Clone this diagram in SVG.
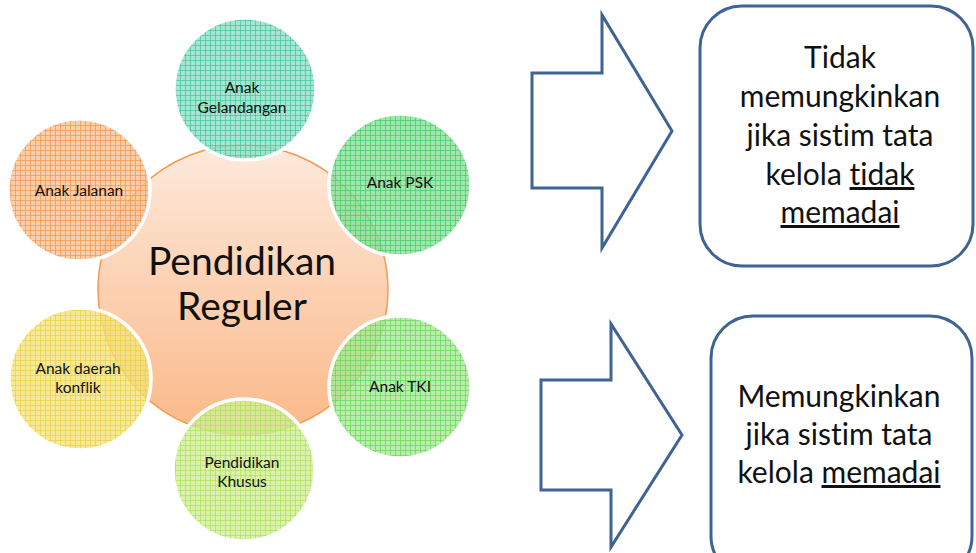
<svg xmlns="http://www.w3.org/2000/svg" width="976" height="553" viewBox="0 0 976 553">
  <defs>
    <style>
      .lbl { font-family: Lato, "Liberation Sans", sans-serif; fill: #111; text-anchor: middle; font-variant-ligatures: none; }
      .small { font-size: 15.5px; }
      .hub { font-size: 39px; }
      .box { font-size: 30px; }
      .sat { stroke: #ffffff; stroke-width: 3.5; }
      .frame { fill: #ffffff; stroke: #3d6494; stroke-width: 3; }
      .arrow { fill: #ffffff; stroke: #3d6494; stroke-width: 3; stroke-linejoin: miter; }
    </style>
    <linearGradient id="hubFill" x1="0" y1="0" x2="0" y2="1">
      <stop offset="0" stop-color="#fde9dc"/>
      <stop offset="1" stop-color="#fbb988"/>
    </linearGradient>
    <pattern id="gTeal" width="5" height="5" patternUnits="userSpaceOnUse">
      <rect width="5" height="5" fill="#8fdfc6" fill-opacity="0.8"/>
      <path d="M0 0.5H5M0.5 0V5" stroke="#3fc79a" stroke-width="1" stroke-opacity="0.7"/>
    </pattern>
    <pattern id="gGreen" width="5" height="5" patternUnits="userSpaceOnUse">
      <rect width="5" height="5" fill="#88e09a" fill-opacity="0.8"/>
      <path d="M0 0.5H5M0.5 0V5" stroke="#45cc66" stroke-width="1" stroke-opacity="0.7"/>
    </pattern>
    <pattern id="gLime" width="5" height="5" patternUnits="userSpaceOnUse">
      <rect width="5" height="5" fill="#a8e896" fill-opacity="0.8"/>
      <path d="M0 0.5H5M0.5 0V5" stroke="#66d856" stroke-width="1" stroke-opacity="0.7"/>
    </pattern>
    <pattern id="gYellowGreen" width="5" height="5" patternUnits="userSpaceOnUse">
      <rect width="5" height="5" fill="#d2ef98" fill-opacity="0.8"/>
      <path d="M0 0.5H5M0.5 0V5" stroke="#ade05a" stroke-width="1" stroke-opacity="0.7"/>
    </pattern>
    <pattern id="gYellow" width="5" height="5" patternUnits="userSpaceOnUse">
      <rect width="5" height="5" fill="#f4e47e" fill-opacity="0.8"/>
      <path d="M0 0.5H5M0.5 0V5" stroke="#ebd044" stroke-width="1" stroke-opacity="0.7"/>
    </pattern>
    <pattern id="gOrange" width="5" height="5" patternUnits="userSpaceOnUse">
      <rect width="5" height="5" fill="#f8c296" fill-opacity="0.8"/>
      <path d="M0 0.5H5M0.5 0V5" stroke="#f4964c" stroke-width="1" stroke-opacity="0.7"/>
    </pattern>
  </defs>

  <!-- central hub -->
  <g id="hub">
    <circle cx="243" cy="290" r="145" fill="url(#hubFill)" stroke="#f39a4f" stroke-width="1.5"/>
  </g>

  <!-- satellite circles around the hub -->
  <g id="anak-gelandangan">
    <circle class="sat" cx="245" cy="89" r="71" fill="url(#gTeal)"/>
    <text class="lbl small" x="242" y="93">Anak</text>
    <text class="lbl small" x="242" y="113">Gelandangan</text>
  </g>
  <g id="anak-psk">
    <circle class="sat" cx="400" cy="185" r="71" fill="url(#gGreen)"/>
    <text class="lbl small" x="400" y="188">Anak PSK</text>
  </g>
  <g id="anak-tki">
    <circle class="sat" cx="400" cy="387" r="71" fill="url(#gLime)"/>
    <text class="lbl small" x="400" y="392">Anak TKI</text>
  </g>
  <g id="pendidikan-khusus">
    <circle class="sat" cx="244" cy="470" r="71" fill="url(#gYellowGreen)"/>
    <text class="lbl small" x="242" y="468">Pendidikan</text>
    <text class="lbl small" x="242" y="487">Khusus</text>
  </g>
  <g id="anak-daerah-konflik">
    <circle class="sat" cx="80" cy="379" r="71" fill="url(#gYellow)"/>
    <text class="lbl small" x="78" y="374">Anak daerah</text>
    <text class="lbl small" x="78" y="393">konflik</text>
  </g>
  <g id="anak-jalanan">
    <circle class="sat" cx="79" cy="190" r="71" fill="url(#gOrange)"/>
    <text class="lbl small" x="79" y="196">Anak Jalanan</text>
  </g>

  <!-- hub label on top of the overlaps -->
  <g id="hub-label">
    <text class="lbl hub" x="242" y="275">Pendidikan</text>
    <text class="lbl hub" x="242" y="320">Reguler</text>
  </g>

  <!-- block arrows -->
  <g id="connectors">
    <polygon class="arrow" points="532,73 602,73 602,15 672,131 602,248 602,188 532,188"/>
    <polygon class="arrow" points="541,380 611,380 611,324 682,435 611,547 611,490 541,490"/>
  </g>

  <!-- outcome boxes -->
  <g id="outcome-inadequate">
    <rect class="frame" x="700" y="6" width="273" height="260" rx="42"/>
    <text class="lbl box" x="840" y="68">Tidak</text>
    <text class="lbl box" x="840" y="107">memungkinkan</text>
    <text class="lbl box" x="840" y="146">jika sistim tata</text>
    <text class="lbl box" x="840" y="185">kelola <tspan text-decoration="underline">tidak</tspan></text>
    <text class="lbl box" x="840" y="223" text-decoration="underline">memadai</text>
  </g>
  <g id="outcome-adequate">
    <rect class="frame" x="711" y="316" width="261" height="262" rx="42"/>
    <text class="lbl box" x="839" y="407">Memungkinkan</text>
    <text class="lbl box" x="839" y="445">jika sistim tata</text>
    <text class="lbl box" x="839" y="483">kelola <tspan text-decoration="underline">memadai</tspan></text>
  </g>
</svg>
